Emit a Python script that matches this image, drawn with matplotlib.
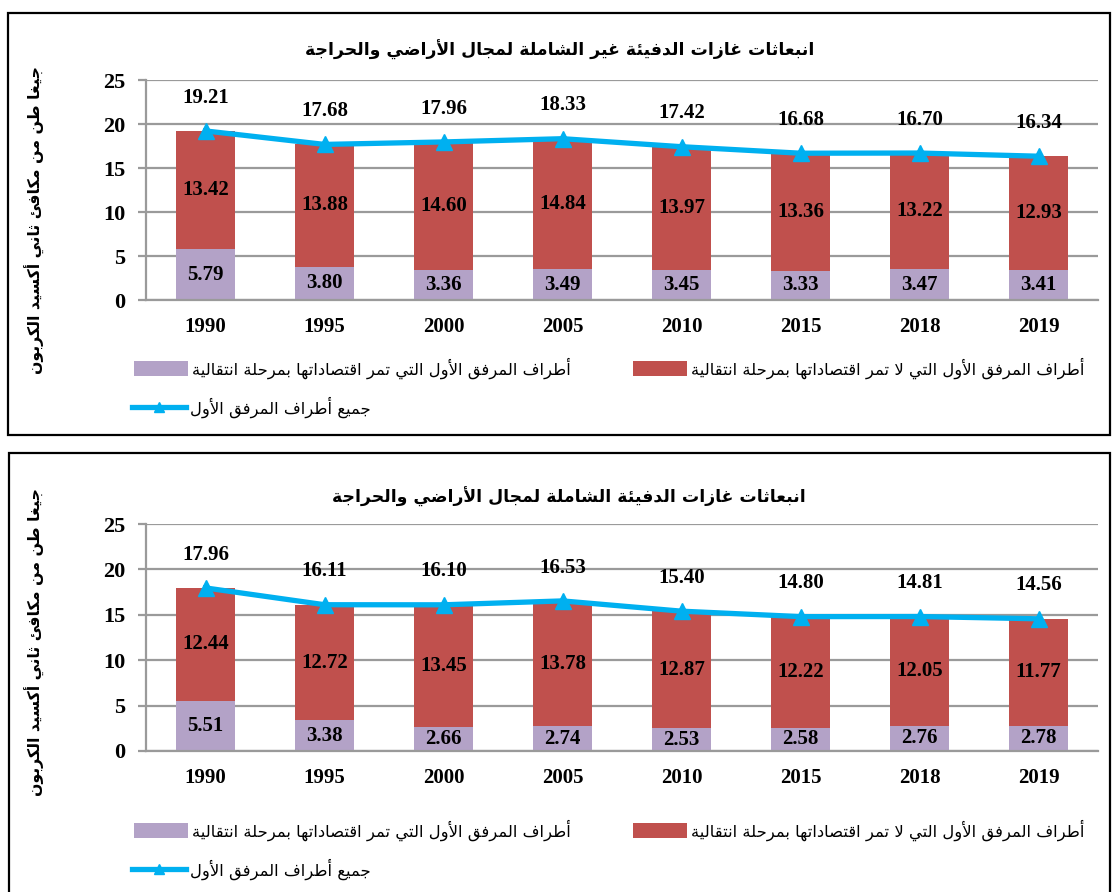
import matplotlib
matplotlib.use('Agg')
import matplotlib.pyplot as plt
from matplotlib.patches import Rectangle

# ---- data -----------------------------------------------------------
years = ['1990', '1995', '2000', '2005', '2010', '2015', '2018', '2019']

top_eit = [5.79, 3.80, 3.36, 3.49, 3.45, 3.33, 3.47, 3.41]
top_non_eit = [13.42, 13.88, 14.60, 14.84, 13.97, 13.36, 13.22, 12.93]
top_total = [19.21, 17.68, 17.96, 18.33, 17.42, 16.68, 16.70, 16.34]

bot_eit = [5.51, 3.38, 2.66, 2.74, 2.53, 2.58, 2.76, 2.78]
bot_non_eit = [12.44, 12.72, 13.45, 13.78, 12.87, 12.22, 12.05, 11.77]
bot_total = [17.96, 16.11, 16.10, 16.53, 15.40, 14.80, 14.81, 14.56]

title_top = 'انبعاثات غازات الدفيئة غير الشاملة لمجال الأراضي والحراجة'
title_bot = 'انبعاثات غازات الدفيئة الشاملة لمجال الأراضي والحراجة'
ylabel = 'جيغا طن من مكافئ ثاني أكسيد الكربون'
lbl_eit = 'أطراف المرفق الأول التي تمر اقتصاداتها بمرحلة انتقالية'
lbl_non_eit = 'أطراف المرفق الأول التي لا تمر اقتصاداتها بمرحلة انتقالية'
lbl_total = 'جميع أطراف المرفق الأول'

PURPLE = '#B3A2C7'
RED = '#C0504D'
BLUE = '#00B0F0'
GRID = '#9A9A9A'

# ---- minimal arabic shaping (matplotlib has no shaping/bidi) -------
AR_FORMS = {}
_cp = 0xFE80
for ch, n in [('ء', 1), ('آ', 2), ('أ', 2), ('ؤ', 2), ('إ', 2), ('ئ', 4),
              ('ا', 2), ('ب', 4), ('ة', 2), ('ت', 4), ('ث', 4), ('ج', 4),
              ('ح', 4), ('خ', 4), ('د', 2), ('ذ', 2), ('ر', 2), ('ز', 2),
              ('س', 4), ('ش', 4), ('ص', 4), ('ض', 4), ('ط', 4), ('ظ', 4),
              ('ع', 4), ('غ', 4), ('ف', 4), ('ق', 4), ('ك', 4), ('ل', 4),
              ('م', 4), ('ن', 4), ('ه', 4), ('و', 2), ('ى', 2), ('ي', 4)]:
    AR_FORMS[ch] = (_cp, n)
    _cp += n
LAM_ALEF = {'آ': 0xFEF5, 'أ': 0xFEF7, 'إ': 0xFEF9, 'ا': 0xFEFB}


def ar(text):
    out = []
    i = 0
    while i < len(text):
        c = text[i]
        if c not in AR_FORMS:
            out.append(c)
            i += 1
            continue
        prev = text[i - 1] if i > 0 else ''
        prev_joins = prev in AR_FORMS and AR_FORMS[prev][1] == 4
        if c == 'ل' and i + 1 < len(text) and text[i + 1] in LAM_ALEF:
            out.append(chr(LAM_ALEF[text[i + 1]] + (1 if prev_joins else 0)))
            i += 2
            continue
        base, n = AR_FORMS[c]
        nxt = text[i + 1] if i + 1 < len(text) else ''
        next_joins = n == 4 and nxt in AR_FORMS and nxt != 'ء'
        if n == 1:
            form = 0
        elif prev_joins and next_joins:
            form = 3
        elif prev_joins:
            form = 1
        elif next_joins:
            form = 2
        else:
            form = 0
        out.append(chr(base + form))
        i += 1
    return ''.join(reversed(out))


plt.rcParams['font.family'] = ['Liberation Serif', 'DejaVu Sans']
AR_FONT = ['DejaVu Sans']

W, H = 1113, 892
fig = plt.figure(figsize=(W / 100, H / 100), dpi=100)


def fx(px):
    return px / W


def fy(py):
    return 1 - py / H


def panel(top_px, bot_px, eit, non_eit, total, title, title_xy, ylab_y, leg_rows):
    ax = fig.add_axes([fx(146), fy(bot_px), fx(1098) - fx(146), fy(top_px) - fy(bot_px)])
    x = range(len(years))
    b1 = ax.bar(x, eit, width=0.5, color=PURPLE, zorder=2)
    b2 = ax.bar(x, non_eit, width=0.5, bottom=eit, color=RED, zorder=2)
    ln, = ax.plot(x, total, color=BLUE, lw=3.8, marker='^', ms=12, zorder=3)

    for i in x:
        ax.text(i, eit[i] / 2, f'{eit[i]:.2f}', ha='center', va='center',
                fontsize=15, fontweight='bold', zorder=4)
        ax.text(i, eit[i] + non_eit[i] / 2, f'{non_eit[i]:.2f}', ha='center',
                va='center', fontsize=15, fontweight='bold', zorder=4)
        ax.annotate(f'{total[i]:.2f}', (i, total[i]), xytext=(0, 24),
                    textcoords='offset points', ha='center', va='center',
                    fontsize=15, fontweight='bold', zorder=4)

    ax.set_xlim(-0.5, len(years) - 0.5)
    ax.set_ylim(0, 25)
    ax.set_yticks(range(0, 26, 5))
    ax.set_xticks(list(x))
    ax.set_xticklabels(years)
    ax.yaxis.grid(True, color=GRID, lw=1.6)
    ax.set_axisbelow(True)
    for s in ['top', 'right']:
        ax.spines[s].set_visible(False)
    for s in ['left', 'bottom']:
        ax.spines[s].set_color(GRID)
        ax.spines[s].set_linewidth(1.6)
    ax.tick_params(axis='y', length=6, width=1.6, color=GRID, pad=9, labelsize=16)
    ax.tick_params(axis='x', length=0, pad=12, labelsize=15)
    for t in ax.get_xticklabels() + ax.get_yticklabels():
        t.set_fontweight('bold')

    fig.text(fx(title_xy[0]), fy(title_xy[1]), ar(title), ha='center', va='center',
             fontsize=12.4, fontweight='bold', family=AR_FONT)
    fig.text(fx(35), fy(ylab_y), ar(ylabel), rotation=90, ha='center', va='center',
             fontsize=11.3, fontweight='bold', family=AR_FONT)

    r1, r2 = leg_rows
    for handle, label, hx, hy in [(b1, lbl_eit, 134, r1), (b2, lbl_non_eit, 633, r1),
                                  (ln, lbl_total, 132, r2)]:
        fig.legend([handle], [ar(label)], loc='center left',
                   bbox_to_anchor=(fx(hx), fy(hy)), frameon=False,
                   borderpad=0, borderaxespad=0, handlelength=3.3,
                   handleheight=1.0, handletextpad=0.25, markerscale=0.6,
                   prop={'family': AR_FONT, 'size': 11.8})
    return ax


panel(80, 300, top_eit, top_non_eit, top_total, title_top, (560, 50), 220, (368, 407))
panel(524, 751, bot_eit, bot_non_eit, bot_total, title_bot, (569, 497), 642, (830, 869))

# panel frames
fig.patches.append(Rectangle((fx(8), fy(435)), fx(1110) - fx(8), fy(13) - fy(435),
                             transform=fig.transFigure, fill=False, ec='black', lw=1.6))
fig.patches.append(Rectangle((fx(9), fy(920)), fx(1110) - fx(9), fy(453) - fy(920),
                             transform=fig.transFigure, fill=False, ec='black', lw=1.6))

fig.savefig('out.png', dpi=100)
